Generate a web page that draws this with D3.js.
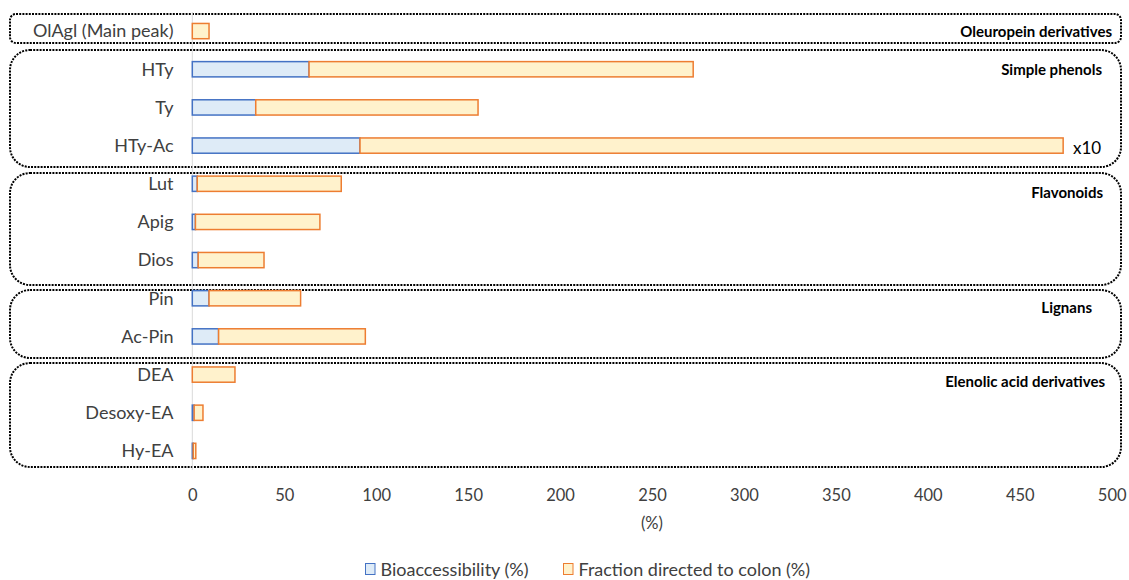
<!DOCTYPE html>
<html>
<head>
<meta charset="utf-8">
<script src="https://cdn.jsdelivr.net/npm/d3@7/dist/d3.min.js"></script>
<style>
  html, body { margin: 0; padding: 0; background: #fff; }
  svg { display: block; }
</style>
</head>
<body>
<svg id="chart" width="1129" height="580"></svg>
<script>
// Compounds, top to bottom
const categories = ["OlAgl (Main peak)", "HTy", "Ty", "HTy-Ac", "Lut", "Apig", "Dios",
                    "Pin", "Ac-Pin", "DEA", "Desoxy-EA", "Hy-EA"];
// Bioaccessibility (%)
const bioaccessibility = [0, 63.5, 34.5, 91.2, 2.7, 1.7, 3.2, 9.1, 14.3, 0, 1.0, 0.5];
// Fraction directed to colon (%)
const colonFraction = [9.1, 208.9, 120.9, 382.4, 78.3, 67.7, 35.8, 49.8, 79.8, 23.2, 4.8, 1.4];
// Compound families and the rows they span
const groupNames = ["Oleuropein derivatives", "Simple phenols", "Flavonoids", "Lignans", "Elenolic acid derivatives"];
const groupFirst = ["OlAgl (Main peak)", "HTy", "Lut", "Pin", "DEA"];
const groupLast  = ["OlAgl (Main peak)", "HTy-Ac", "Dios", "Ac-Pin", "Hy-EA"];
const xTicks = [0, 50, 100, 150, 200, 250, 300, 350, 400, 450, 500];
const seriesNames = ["Bioaccessibility (%)", "Fraction directed to colon (%)"];
const scaleNote = "x10";
const scaleNoteRow = "HTy-Ac";

const fills = ["#DEEBF7", "#FFF2CC"];
const strokes = ["#4472C4", "#ED7D31"];
const FONT = "Lato, 'Open Sans', sans-serif";
const textColor = "#404040";

const svg = d3.select("#chart");

const x = d3.scaleLinear().domain([0, 500]).range([192.3, 1111.7]);
const y = d3.scaleBand().domain(categories).range([12, 470]).paddingInner(0.6).paddingOuter(0.3);
const step = y.step();
const center = c => y(c) + y.bandwidth() / 2;

// Dotted rounded frames around each family (insets from the row band edges, corner radius)
const frameInset = [[2, 7, 6], [0, -2, 20], [8, -6, 20], [11, -3, 20], [7, 3, 20]];
const labelShift = [[1112, 0], [1102, 0], [1103, 8], [1092, 9], [1105, 6]];
groupNames.forEach((g, i) => {
  const top = Math.round(center(groupFirst[i]) - step / 2 + frameInset[i][0]);
  const bottom = Math.round(center(groupLast[i]) + step / 2 - frameInset[i][1]);
  svg.append("rect")
    .attr("x", 10).attr("y", top)
    .attr("width", 1111).attr("height", bottom - top)
    .attr("rx", frameInset[i][2]).attr("ry", frameInset[i][2])
    .attr("fill", "none").attr("stroke", "#000")
    .attr("stroke-width", 2).attr("stroke-dasharray", "2 1.2");
  svg.append("text")
    .attr("x", labelShift[i][0])
    .attr("y", center(groupFirst[i]) + labelShift[i][1])
    .attr("text-anchor", "end").attr("dominant-baseline", "central")
    .attr("font-family", FONT).attr("font-weight", "bold").attr("font-size", 15)
    .attr("fill", "#000").text(g);
});

// Zero line
svg.append("line")
  .attr("x1", x(0)).attr("x2", x(0)).attr("y1", 12).attr("y2", 470)
  .attr("stroke", "#d9d9d9").attr("stroke-width", 1);

// Stacked bars
const rows = categories.map((c, i) => ({ c, v: [bioaccessibility[i], colonFraction[i]] }));
const stack = d3.stack().keys([0, 1]).value((d, k) => d.v[k]);
const layers = stack(rows);
layers.forEach((layer, k) => {
  svg.append("g").selectAll("rect").data(layer).join("rect")
    .filter(d => d[1] - d[0] > 0)
    .attr("x", d => x(d[0]))
    .attr("y", d => y(d.data.c))
    .attr("width", d => x(d[1]) - x(d[0]))
    .attr("height", y.bandwidth())
    .attr("fill", fills[k])
    .attr("stroke", strokes[k]).attr("stroke-width", 1.5);
});

// Category labels
const yAxis = d3.axisLeft(y).tickSize(0).tickPadding(0);
const gy = svg.append("g").attr("transform", `translate(${173.5},0)`).call(yAxis);
gy.select(".domain").remove();
gy.selectAll("text").attr("font-family", FONT).attr("font-size", 18)
  .attr("fill", textColor).attr("dy", "0.35em");

// Value axis labels
const xAxis = d3.axisBottom(x).tickValues(xTicks).tickSize(0).tickPadding(0);
const gx = svg.append("g").attr("transform", `translate(0,${489})`).call(xAxis);
gx.select(".domain").remove();
gx.selectAll("text").attr("font-family", FONT).attr("font-size", 16.5)
  .attr("fill", textColor).attr("dy", "0.71em");

svg.append("text")
  .attr("x", x(250)).attr("y", 523).attr("text-anchor", "middle")
  .attr("dominant-baseline", "central")
  .attr("font-family", FONT).attr("font-size", 16.5).attr("fill", textColor).text("(%)");

// Scaling note beside the HTy-Ac bar
svg.append("text")
  .attr("x", 1073).attr("y", center(scaleNoteRow) + 2)
  .attr("dominant-baseline", "central")
  .attr("font-family", FONT).attr("font-size", 17).attr("fill", "#000").text(scaleNote);

// Legend
const legendX = [365.5, 563.5];
seriesNames.forEach((name, k) => {
  svg.append("rect")
    .attr("x", legendX[k]).attr("y", 563.5)
    .attr("width", 9.5).attr("height", 11)
    .attr("fill", fills[k]).attr("stroke", strokes[k]).attr("stroke-width", 1);
  svg.append("text")
    .attr("x", legendX[k] + 15).attr("y", 569)
    .attr("dominant-baseline", "central")
    .attr("font-family", FONT).attr("font-size", 18).attr("fill", textColor).text(name);
});
</script>
</body>
</html>
